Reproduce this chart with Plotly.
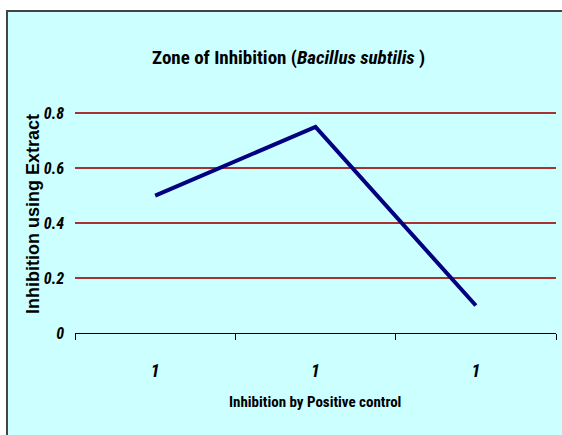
import plotly.graph_objects as go

categories = ["1", "1", "1"]
inhibition = [0.5, 0.75, 0.1]
y_ticks = [0, 0.2, 0.4, 0.6, 0.8]
y_tick_labels = ["0", "0.2", "0.4", "0.6", "0.8"]

NARROW = "Roboto Condensed, Arial Narrow, sans-serif"
W, H = 562, 435
L, R, T, B = 75, 6, 112, 102
pw = W - L - R
ph = H - T - B

def px(x):
    return (x - L) / pw

def py(y):
    return (H - B - y) / ph

xpos = list(range(len(categories)))

fig = go.Figure()
fig.add_trace(go.Scatter(
    x=xpos, y=inhibition, mode="lines",
    line=dict(color="#000080", width=4),
    hoverinfo="skip", showlegend=False,
))

fig.update_layout(
    width=W, height=H,
    margin=dict(l=L, r=R, t=T, b=B),
    paper_bgcolor="white",
    plot_bgcolor="rgba(0,0,0,0)",
    showlegend=False,
    xaxis=dict(
        range=[-0.5, len(categories) - 0.5],
        tickvals=xpos, ticktext=categories,
        ticks="", showgrid=False, zeroline=False,
        showline=True, linecolor="black", linewidth=1,
        tickfont=dict(family=NARROW, size=18, color="black", weight="bold", style="italic"),
        ticklabelstandoff=21,
        minor=dict(tickvals=[i - 0.5 for i in range(len(categories) + 1)],
                   ticks="outside", ticklen=6, tickcolor="black", tickwidth=1,
                   showgrid=False),
        fixedrange=True,
    ),
    yaxis=dict(
        range=[0, 0.804],
        tickvals=y_ticks, ticktext=y_tick_labels,
        ticks="", showgrid=True, gridcolor="#A83232", gridwidth=2,
        zeroline=True, zerolinecolor="black", zerolinewidth=1,
        showline=False,
        tickfont=dict(family=NARROW, size=16, color="black", weight="bold", style="italic"),
        ticklabelstandoff=10,
        fixedrange=True,
    ),
    shapes=[dict(
        type="rect", xref="paper", yref="paper",
        x0=px(7), x1=px(575), y0=py(11), y1=py(450),
        fillcolor="#CCFFFF", line=dict(color="#444444", width=2),
        layer="below",
    )],
    annotations=[
        dict(text="Zone of Inhibition (<i>Bacillus subtilis</i> )",
             xref="paper", yref="paper", x=px(288), y=py(57),
             showarrow=False, xanchor="center", yanchor="middle",
             font=dict(family=NARROW, size=19, color="black", weight="bold")),
        dict(text="Inhibition by Positive control",
             xref="paper", yref="paper", x=px(315), y=py(402),
             showarrow=False, xanchor="center", yanchor="middle",
             font=dict(family=NARROW, size=15, color="black", weight="bold")),
        dict(text="Inhibition using Extract",
             xref="paper", yref="paper", x=px(33), y=py(214),
             showarrow=False, xanchor="center", yanchor="middle", textangle=-90,
             font=dict(family="Liberation Sans, Arial, sans-serif", size=18, color="black", weight="bold")),
    ],
)

fig.write_html("out.html", post_script="document.body.style.margin='0';",
               config={"displayModeBar": False})
